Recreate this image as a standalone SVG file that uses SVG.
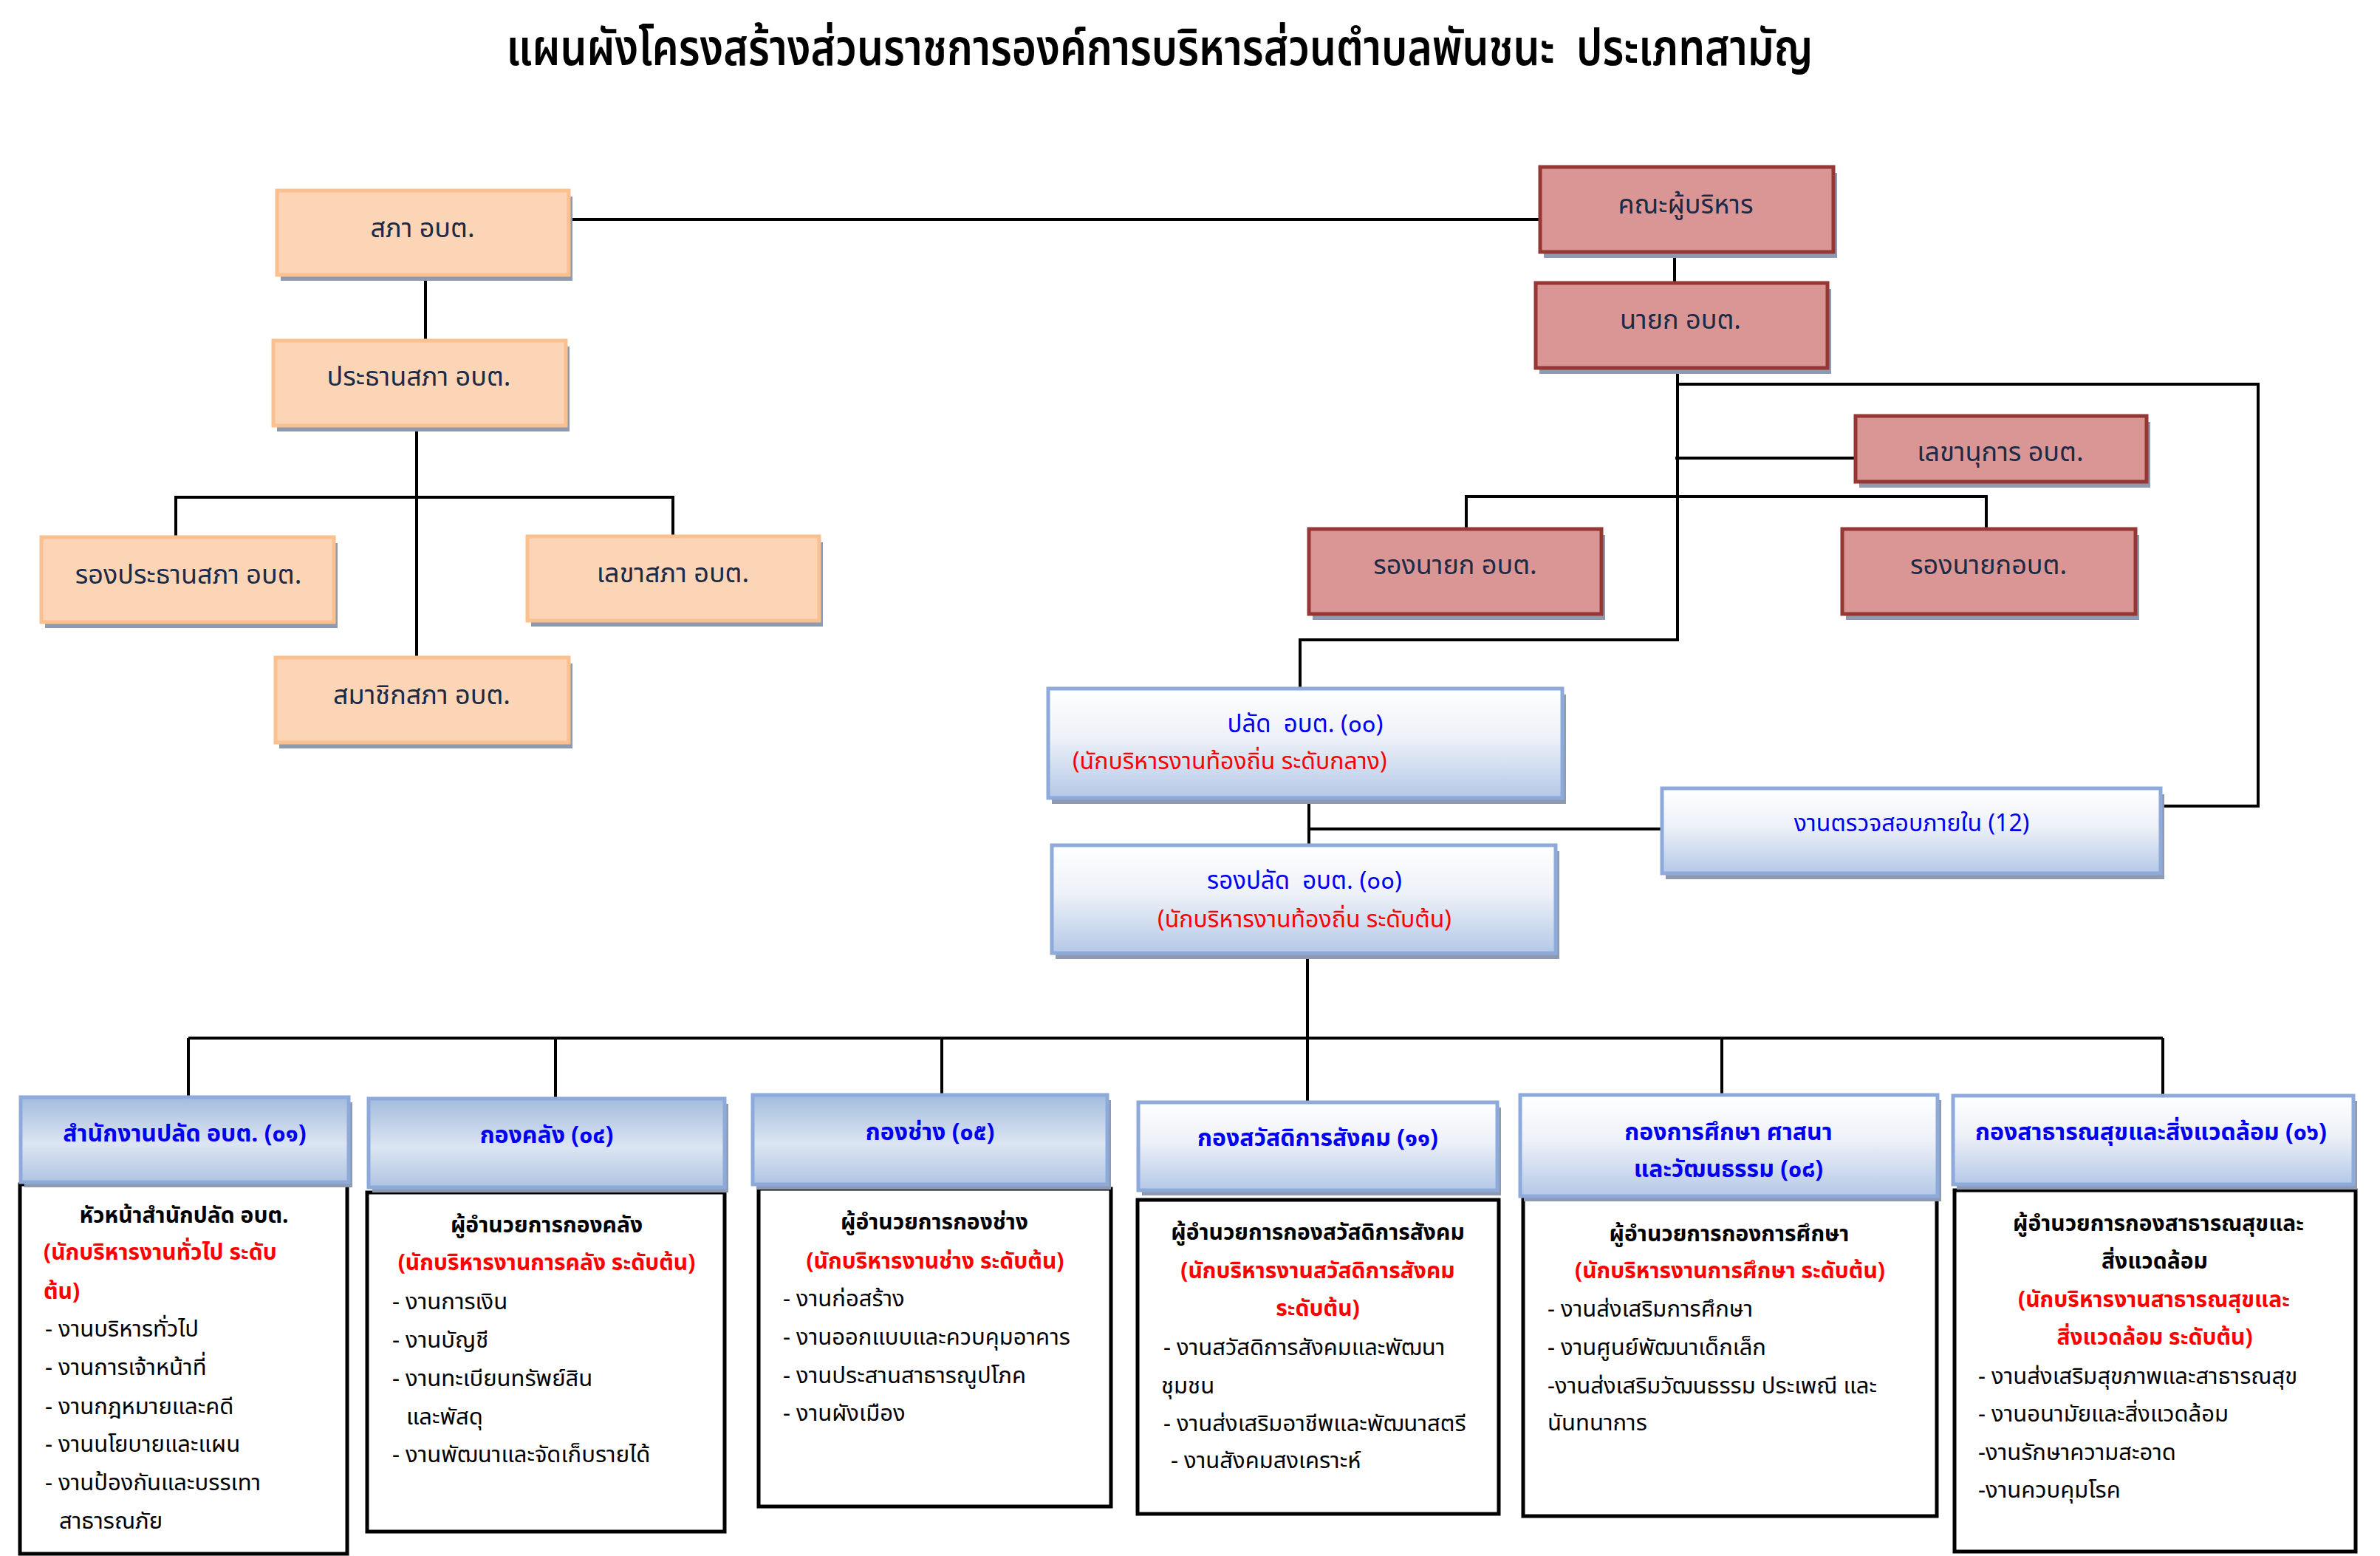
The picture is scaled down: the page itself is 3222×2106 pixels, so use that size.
<svg xmlns="http://www.w3.org/2000/svg" width="3222" height="2106" viewBox="0 0 3222 2106">
<defs>
<linearGradient id="gBlue" x1="0" y1="0" x2="0" y2="1">
<stop offset="0" stop-color="#FFFFFF"/><stop offset="0.45" stop-color="#EDF1F8"/><stop offset="1" stop-color="#B4C8E7"/>
</linearGradient>
<linearGradient id="gHead" x1="0" y1="0" x2="0" y2="1">
<stop offset="0" stop-color="#A3BCDD"/><stop offset="0.55" stop-color="#DCE5F2"/><stop offset="1" stop-color="#AFC4E2"/>
</linearGradient>
<style>
text{font-family:"Noto Sans Thai","Noto Sans Thai UI","Leelawadee UI",Tahoma,"Noto Sans","DejaVu Sans",sans-serif;white-space:pre}
.title{font-size:68px;fill:#000;text-anchor:middle;font-weight:600}
.sh{fill:#8E9AAF}
.peach{fill:#FBD5B5;stroke:#FAC090;stroke-width:5}
.red{fill:#D99694;stroke:#953735;stroke-width:5}
.blue{fill:url(#gBlue);stroke:#8EAADB;stroke-width:5}
.head{fill:url(#gHead);stroke:#8EAADB;stroke-width:5}
.body{fill:#FFFFFF;stroke:#000;stroke-width:5}
.tn{font-size:36px;fill:#1B2A47;text-anchor:middle}
.tb{font-size:33px;fill:#0000EE;text-anchor:middle}
.tr{font-size:32px;fill:#FF0000}
.hd{font-size:32px;fill:#0000EE;text-anchor:middle;font-weight:bold}
.bb{font-size:30px;fill:#000;font-weight:bold;text-anchor:middle}
.br{font-size:30px;fill:#FF0000;font-weight:bold}
.bt{font-size:31px;fill:#000}
.m{text-anchor:middle}
.conn path{fill:none;stroke:#000;stroke-width:4}
</style>
</defs>
<rect width="3222" height="2106" fill="#FFFFFF"/>
<text class="title" x="1570" y="88" textLength="1769" lengthAdjust="spacingAndGlyphs">แผนผังโครงสร้างส่วนราชการองค์การบริหารส่วนตำบลพันชนะ  ประเภทสามัญ</text>

<g id="connectors" class="conn">
<path d="M773 297 H2085"/>
<path d="M576 380 V461"/>
<path d="M564 582 V890"/>
<path d="M238 727 V673 H911 V726"/>
<path d="M2267 341 V383"/>
<path d="M2271 504 V866 H1760 V932"/>
<path d="M2271 520 H3057 V1091 H2927"/>
<path d="M2268 620 H2512"/>
<path d="M1985 716 V672 H2689 V716"/>
<path d="M1772 1087 V1144"/>
<path d="M1772 1122 H2250"/>
<path d="M1770 1297 V1406"/>
<path d="M255 1405 H2928"/>
<path d="M255 1405 V1485"/>
<path d="M752 1405 V1487"/>
<path d="M1275 1405 V1482"/>
<path d="M1770 1405 V1492"/>
<path d="M2331 1405 V1482"/>
<path d="M2928 1405 V1483"/>
</g>

<g id="sapha">
<rect class="sh" x="380" y="266" width="395" height="114"/>
<rect class="peach" x="375" y="258" width="395" height="114"/>
<text class="tn" x="572" y="321">สภา อบต.</text>
</g>
<g id="prathan">
<rect class="sh" x="375" y="469" width="396" height="115"/>
<rect class="peach" x="370" y="461" width="396" height="115"/>
<text class="tn" x="567" y="522">ประธานสภา อบต.</text>
</g>
<g id="rong-prathan">
<rect class="sh" x="61" y="735" width="396" height="115"/>
<rect class="peach" x="56" y="727" width="396" height="115"/>
<text class="tn" x="255" y="790">รองประธานสภา อบต.</text>
</g>
<g id="lekha-sapha">
<rect class="sh" x="719" y="734" width="395" height="114"/>
<rect class="peach" x="714" y="726" width="395" height="114"/>
<text class="tn" x="911" y="788">เลขาสภา อบต.</text>
</g>
<g id="samachik">
<rect class="sh" x="378" y="898" width="397" height="115"/>
<rect class="peach" x="373" y="890" width="397" height="115"/>
<text class="tn" x="571" y="953">สมาชิกสภา อบต.</text>
</g>

<g id="khana">
<rect class="sh" x="2090" y="234" width="397" height="115"/>
<rect class="red" x="2085" y="226" width="397" height="115"/>
<text class="tn" x="2282" y="289">คณะผู้บริหาร</text>
</g>
<g id="nayok">
<rect class="sh" x="2084" y="391" width="395" height="115"/>
<rect class="red" x="2079" y="383" width="395" height="115"/>
<text class="tn" x="2275" y="445">นายก อบต.</text>
</g>
<g id="lekhanukan">
<rect class="sh" x="2517" y="571" width="394" height="89"/>
<rect class="red" x="2512" y="563" width="394" height="89"/>
<text class="tn" x="2708" y="624">เลขานุการ อบต.</text>
</g>
<g id="rongnayok1">
<rect class="sh" x="1777" y="724" width="396" height="115"/>
<rect class="red" x="1772" y="716" width="396" height="115"/>
<text class="tn" x="1970" y="777">รองนายก อบต.</text>
</g>
<g id="rongnayok2">
<rect class="sh" x="2499" y="724" width="397" height="115"/>
<rect class="red" x="2494" y="716" width="397" height="115"/>
<text class="tn" x="2692" y="777">รองนายกอบต.</text>
</g>

<g id="palad">
<rect class="sh" x="1424" y="940" width="696" height="148"/>
<rect class="blue" x="1419" y="932" width="696" height="148"/>
<text class="tb" x="1767" y="991">ปลัด  อบต. (๐๐)</text>
<text class="tr" x="1452" y="1041">(นักบริหารงานท้องถิ่น ระดับกลาง)</text>
</g>
<g id="rongpalad">
<rect class="sh" x="1429" y="1152" width="682" height="146"/>
<rect class="blue" x="1424" y="1144" width="682" height="146"/>
<text class="tb" x="1766" y="1203">รองปลัด  อบต. (๐๐)</text>
<text class="tr m" x="1766" y="1255">(นักบริหารงานท้องถิ่น ระดับต้น)</text>
</g>
<g id="audit">
<rect class="sh" x="2255" y="1075" width="675" height="115"/>
<rect class="blue" x="2250" y="1067" width="675" height="115"/>
<text class="tb" x="2588" y="1125" style="font-size:32px">งานตรวจสอบภายใน (12)</text>
</g>

<g id="unit-01">
<rect class="body" x="27" y="1603" width="443" height="500"/>
<rect class="sh" x="33" y="1492" width="444" height="115"/>
<rect class="head" x="28" y="1485" width="444" height="115"/>
<text class="hd" x="250" y="1545">สำนักงานปลัด อบต. (๐๑)</text>
<text class="bb" x="249" y="1655">หัวหน้าสำนักปลัด อบต.</text>
<text class="br" x="59" y="1705">(นักบริหารงานทั่วไป ระดับ</text>
<text class="br" x="59" y="1758">ต้น)</text>
<text class="bt" x="61" y="1809">- งานบริหารทั่วไป</text>
<text class="bt" x="61" y="1861">- งานการเจ้าหน้าที่</text>
<text class="bt" x="61" y="1914">- งานกฎหมายและคดี</text>
<text class="bt" x="61" y="1965">- งานนโยบายและแผน</text>
<text class="bt" x="61" y="2017">- งานป้องกันและบรรเทา</text>
<text class="bt" x="80" y="2069">สาธารณภัย</text>
</g>
<g id="unit-04">
<rect class="body" x="497" y="1614" width="484" height="459"/>
<rect class="sh" x="504" y="1494" width="482" height="120"/>
<rect class="head" x="499" y="1487" width="482" height="120"/>
<text class="hd" x="740" y="1547">กองคลัง (๐๔)</text>
<text class="bb" x="740" y="1668">ผู้อำนวยการกองคลัง</text>
<text class="br m" x="740" y="1719">(นักบริหารงานการคลัง ระดับต้น)</text>
<text class="bt" x="531" y="1772">- งานการเงิน</text>
<text class="bt" x="531" y="1824">- งานบัญชี</text>
<text class="bt" x="531" y="1876">- งานทะเบียนทรัพย์สิน</text>
<text class="bt" x="550" y="1928">และพัสดุ</text>
<text class="bt" x="531" y="1979">- งานพัฒนาและจัดเก็บรายได้</text>
</g>
<g id="unit-05">
<rect class="body" x="1027" y="1609" width="477" height="430"/>
<rect class="sh" x="1024" y="1489" width="480" height="121"/>
<rect class="head" x="1019" y="1482" width="480" height="121"/>
<text class="hd" x="1259" y="1543">กองช่าง (๐๕)</text>
<text class="bb" x="1265" y="1664">ผู้อำนวยการกองช่าง</text>
<text class="br m" x="1266" y="1717">(นักบริหารงานช่าง ระดับต้น)</text>
<text class="bt" x="1060" y="1768">- งานก่อสร้าง</text>
<text class="bt" x="1060" y="1820">- งานออกแบบและควบคุมอาคาร</text>
<text class="bt" x="1060" y="1872">- งานประสานสาธารณูปโภค</text>
<text class="bt" x="1060" y="1923">- งานผังเมือง</text>
</g>
<g id="unit-11">
<rect class="body" x="1540" y="1624" width="489" height="425"/>
<rect class="sh" x="1546" y="1499" width="486" height="119"/>
<rect class="blue" x="1541" y="1492" width="486" height="119"/>
<text class="hd" x="1784" y="1551">กองสวัสดิการสังคม (๑๑)</text>
<text class="bb" x="1784" y="1678">ผู้อำนวยการกองสวัสดิการสังคม</text>
<text class="br m" x="1784" y="1730">(นักบริหารงานสวัสดิการสังคม</text>
<text class="br m" x="1784" y="1781">ระดับต้น)</text>
<text class="bt" x="1575" y="1834">- งานสวัสดิการสังคมและพัฒนา</text>
<text class="bt" x="1572" y="1886">ชุมชน</text>
<text class="bt" x="1575" y="1937">- งานส่งเสริมอาชีพและพัฒนาสตรี</text>
<text class="bt" x="1585" y="1987">- งานสังคมสงเคราะห์</text>
</g>
<g id="unit-08">
<rect class="body" x="2062" y="1623" width="560" height="429"/>
<rect class="sh" x="2063" y="1489" width="565" height="137"/>
<rect class="blue" x="2058" y="1482" width="565" height="137"/>
<text class="hd" x="2340" y="1543">กองการศึกษา ศาสนา</text>
<text class="hd" x="2340" y="1593">และวัฒนธรรม (๐๘)</text>
<text class="bb" x="2341" y="1680">ผู้อำนวยการกองการศึกษา</text>
<text class="br m" x="2342" y="1730">(นักบริหารงานการศึกษา ระดับต้น)</text>
<text class="bt" x="2095" y="1782">- งานส่งเสริมการศึกษา</text>
<text class="bt" x="2095" y="1834">- งานศูนย์พัฒนาเด็กเล็ก</text>
<text class="bt" x="2095" y="1886">-งานส่งเสริมวัฒนธรรม ประเพณี และ</text>
<text class="bt" x="2095" y="1936">นันทนาการ</text>
</g>
<g id="unit-06">
<rect class="body" x="2646" y="1611" width="543" height="489"/>
<rect class="sh" x="2649" y="1490" width="542" height="120"/>
<rect class="blue" x="2644" y="1483" width="542" height="120"/>
<text class="hd" x="2912" y="1543">กองสาธารณสุขและสิ่งแวดล้อม (๐๖)</text>
<text class="bb" x="2922" y="1666">ผู้อำนวยการกองสาธารณสุขและ</text>
<text class="bb" x="2917" y="1717">สิ่งแวดล้อม</text>
<text class="br m" x="2916" y="1769">(นักบริหารงานสาธารณสุขและ</text>
<text class="br m" x="2917" y="1820">สิ่งแวดล้อม ระดับต้น)</text>
<text class="bt" x="2678" y="1873">- งานส่งเสริมสุขภาพและสาธารณสุข</text>
<text class="bt" x="2678" y="1924">- งานอนามัยและสิ่งแวดล้อม</text>
<text class="bt" x="2678" y="1976">-งานรักษาความสะอาด</text>
<text class="bt" x="2678" y="2027">-งานควบคุมโรค</text>
</g>
</svg>
